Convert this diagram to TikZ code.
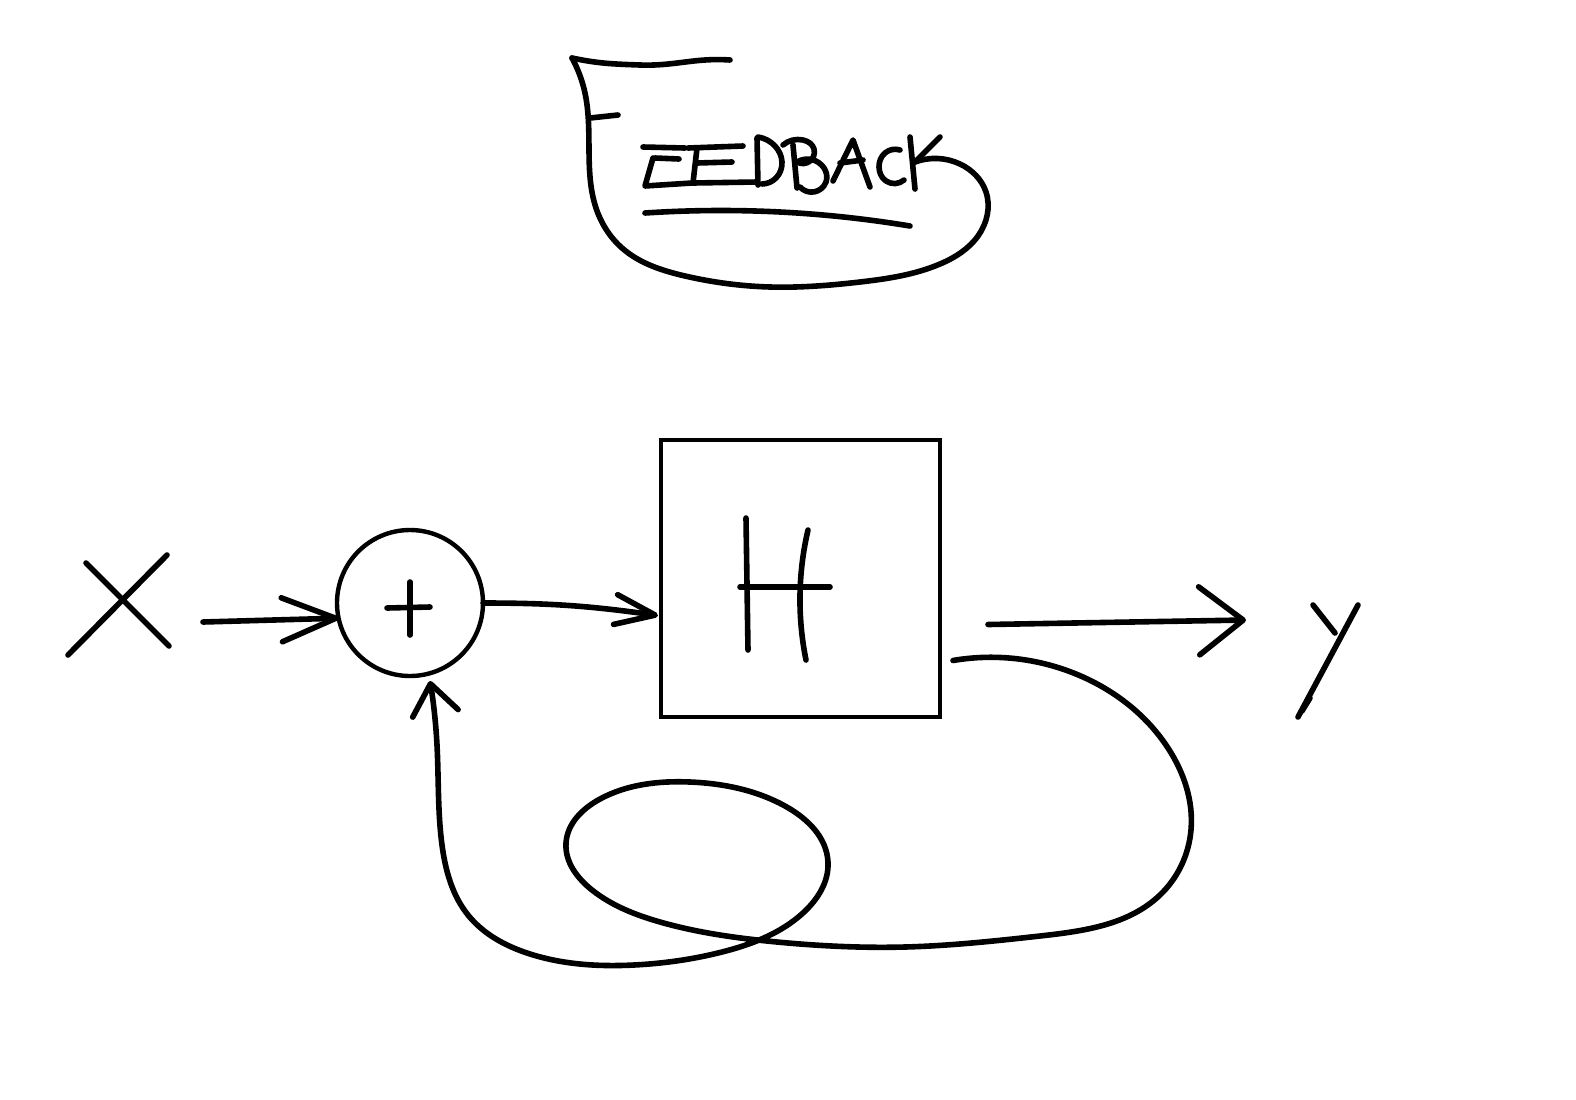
\documentclass[tikz,border=0pt]{standalone}
\usetikzlibrary{arrows.meta,calc,hobby}
\begin{document}
\begin{tikzpicture}[x=0.5pt,y=-0.5pt,use Hobby shortcut,
  ink/.style={line width=2.8pt,line cap=round,line join=round},
  frame/.style={draw,line width=2.2pt,inner sep=0pt,outer sep=0pt},
  tipA/.style={-{Straight Barb[length=27pt,width=22pt,round]}},
  tipB/.style={-{Straight Barb[length=15pt,width=23pt,round]}},
  tipC/.style={-{Straight Barb[length=22pt,width=34pt,round]}},
  tipD/.style={-{Straight Barb[length=20pt,width=15pt,round]}}]
\useasboundingbox[fill=white] (0,0) rectangle (1576,1099);

% --- title: a big looping F, then the rest of the word, underlined
\draw[ink] (572,58) to[out=-12,in=178] (640,65) to[out=-2,in=176] (730,60);
\draw[ink] (915,162) .. (960,164) .. (986,192) .. (978,236) .. (940,264) .. (860,282)
  .. (770,287) .. (685,276) .. (622,248) .. (596,208) .. (589,150) .. (585,93) .. (572,58);
\draw[ink] (590,118) -- (618,115);
% E
\draw[ink] (643,147) -- (685,148);
\draw[ink] (655,158) -- (679,159);
\draw[ink] (653,158) -- (645,186) -- (692,183);
% E
\draw[ink] (688,148) -- (743,146);
\draw[ink] (697,148) -- (693,183) -- (757,182);
\draw[ink] (697,163) -- (732,162);
% D
\draw[ink] (757,138) -- (758,185);
\draw[ink] (758,137) .. (775,146) .. (782,162) .. (776,178) .. (762,184);
% B
\draw[ink] (793,145) -- (797,188);
\draw[ink] (783,145) .. (803,140) .. (814,149) .. (797,162);
\draw[ink] (797,162) .. (824,168) .. (826,182) .. (800,187);
% A
\draw[ink] (833,181) -- (853,140) -- (870,187);
\draw[ink] (840,163) -- (863,160);
% C
\draw[ink] (900,150) .. (885,153) .. (879,167) .. (886,181) .. (904,180);
% K
\draw[ink] (910,137) -- (915,189);
\draw[ink] (940,137) -- (915,162);
% underline
\draw[ink] (645,213) .. (780,212) .. (910,226);

% --- block diagram
\node[frame,circle,minimum size=73pt] (sum) at (410,603) {};
\node[frame,rectangle,minimum width=139.5pt,minimum height=138.5pt] (plant) at (800.5,578.5) {};

% input letter X
\draw[ink] (86,563) -- (169,646);
\draw[ink] (167,555) -- (68,655);
% plus sign
\draw[ink] (410,582) -- (410,635);
\draw[ink] (387,608) -- (430,607);
% letter H inside the block
\draw[ink] (746,518) -- (748,650);
\draw[ink] (808,530) .. (800,595) .. (806,660);
\draw[ink] (740,587) -- (830,587);
% output letter y
\draw[ink] (1313,605) -- (1335,633);
\draw[ink] (1358,605) -- (1298,717);
\draw[ink] (1310,698) -- (1302,711);

% connectors
\coordinate (xin) at (203,622);
\coordinate (hin) at ($(plant.west)+(-3,37)$);
\coordinate (yout) at ($(plant.east)+(48,46)$);
\coordinate (yend) at (1246,620);
\coordinate (fbout) at ($(plant.east)+(13,82)$);
\coordinate (fbin) at ($(sum.south)+(20,5)$);

\draw[ink,tipA] (xin) -- (sum.192);
\draw[ink,tipD] (sum.east) to[out=0,in=172] (hin);
\draw[ink,tipC] (yout) -- (yend);
\draw[ink,tipB] (fbout) .. (1083,677) .. (1168,748) .. (1191,830) .. (1160,895)
  .. (1040,936) .. (905,947) .. (777,942) .. (660,922) .. (592,890) .. (566,843)
  .. (600,799) .. (690,782) .. (785,806) .. (828,862) .. (803,913) .. (722,952)
  .. (634,965) .. (530,954) .. (468,915) .. (442,845) .. (437,745) .. (fbin);
\end{tikzpicture}
\end{document}
